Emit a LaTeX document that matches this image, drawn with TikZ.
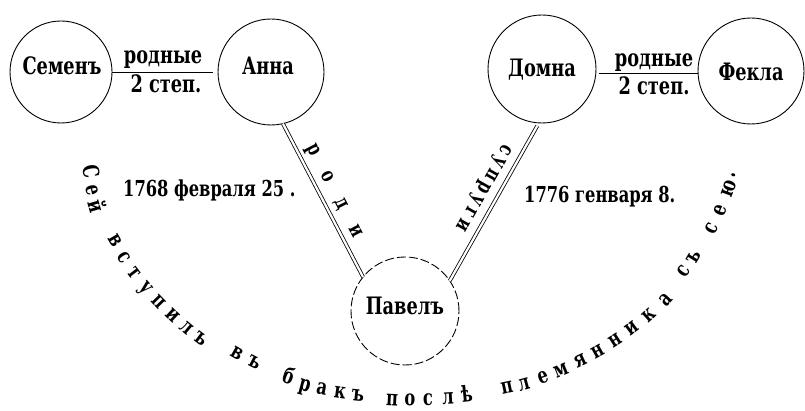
\documentclass[tikz,border=0pt]{standalone}
\usepackage{fontspec}
\setmainfont{DejaVu Serif}[FakeStretch=0.74]
\newcommand\myNameFont{\bfseries\fontsize{24}{28}\selectfont}
\newcommand\myDateFont{\bfseries\fontsize{22}{26}\selectfont}
\newcommand\mySmallFont{\bfseries\fontsize{21}{25}\selectfont}
\newcommand\myArcFont{\bfseries\fontsize{22}{26}\selectfont}
\begin{document}
\begin{tikzpicture}[x=1pt,y=-1pt,
  circ/.style={circle, draw, line width=0.9pt, inner sep=0pt, outer sep=0pt, minimum size=#1},
  nm/.style={font=\myNameFont, inner sep=0pt, anchor=base},
  dt/.style={font=\myDateFont, inner sep=0pt, anchor=base west},
  conn/.style={line width=0.9pt},
  dbl/.style={double, double distance=2.2pt, line width=0.8pt},
  sm/.style={font=\mySmallFont, inner sep=0pt},
  arcl/.style={font=\myArcFont, inner sep=0pt, text height=11.7pt, text depth=0pt}]
\useasboundingbox (0,0) rectangle (805,411);
% circles
\node[circ=102pt] (semen) at (61,72) {};
\node[circ=106pt] (anna) at (271,72) {};
\node[circ=108pt] (domna) at (542,69) {};
\node[circ=106pt] (fekla) at (751,71) {};
\node[circ=108pt, dash pattern=on 9pt off 3pt] (pavel) at (405,311) {};
% names
\node[nm] (semenT) at (62,75) {Семенъ};
\node[nm] (annaT) at (268,75) {Анна};
\node[nm] (domnaT) at (542,77) {Домна};
\node[nm] (feklaT) at (751,81) {Фекла};
\node[nm] (pavelT) at (405,315) {Павелъ};
% sibling lines
\draw[conn] (semen.east) -- ([xshift=-5pt]semen.east -| anna.west);
\node[nm] (l1a) at (163,64) {родные};
\node[nm] (l1b) at (166,93) {2 степ.};
\draw[conn] ([xshift=3pt]domna.-5) -- (domna.-5 -| fekla.west);
\node[nm] (l2a) at (654,67) {родные};
\node[nm] (l2b) at (654,95) {2 степ.};
% double lines
\draw[dbl] (anna.-77) -- node[sm, sloped, pos=.48, above=5pt]
  {р\hspace{20pt}о\hspace{20pt}д\hspace{20pt}и} (pavel.141);
\draw[dbl] ([yshift=-3pt]domna.-95) -- node[sm, sloped, allow upside down, pos=.45, below=9pt]
  {с\hspace{4pt}у\hspace{4pt}п\hspace{4pt}р\hspace{4pt}у\hspace{4pt}г\hspace{4pt}и} (pavel.34);
% dates
\node[dt] (d1) at (123,197) {1768 февраля 25 .};
\node[dt] (d2) at (524,203) {1776 генваря 8.};
% arc text, letter by letter
\foreach \ch/\px/\py/\ang [count=\i] in {
  С/89/172/-80, е/92/190/-78, й/95/207/-74,
  в/115/240/-60, с/124/257/-57, т/134/273/-53, у/146/288/-49, п/159/302/-46,
  и/173/315/-43, л/187/328/-40, ъ/201/339/-37,
  в/237/353/-30, ъ/255/362/-27,
  б/288/378/-20, р/305/385/-15, а/322/389/-11, к/340/393/-8, ъ/358/395/-6,
  п/392/400/-3, о/410/400/-1, с/428/400/1, л/448/398/3, ѣ/467/396/6,
  п/507/388/12, л/524/384/15, е/543/377/18, м/561/370/22, я/580/361/25,
  н/598/351/29, н/615/340/33, и/632/328/37, к/649/315/42, а/666/300/47,
  с/684/271/55, ъ/694/257/59,
  с/712/228/63, е/720/210/66, ю/729/189/70, ./730/174/72}
  \node[arcl, rotate=\ang] (arc\i) at (\px,\py) {\ch};
\end{tikzpicture}
\end{document}
